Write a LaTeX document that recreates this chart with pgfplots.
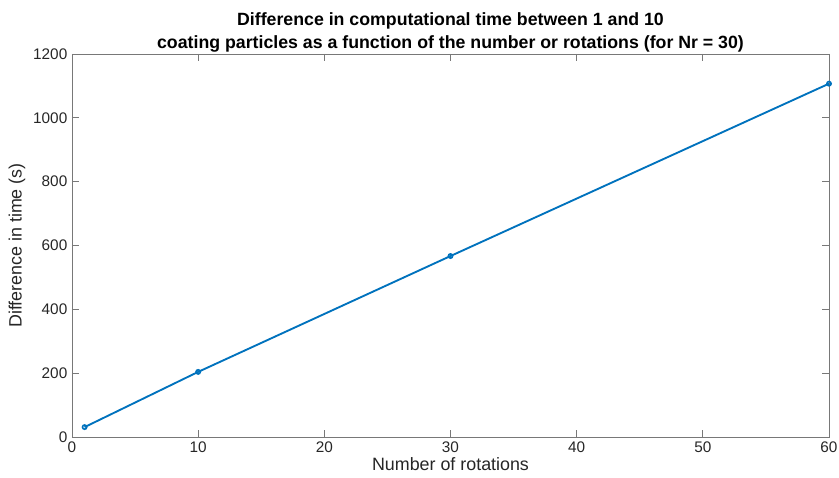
\documentclass[border=0pt]{standalone}
\usepackage{fontspec}
\setmainfont{Liberation Sans}
\usepackage{pgfplots}
\pgfplotsset{compat=1.18}
\definecolor{mblue}{RGB}{0,114,189}
\definecolor{axgray}{RGB}{120,120,120}
\begin{document}
\begin{tikzpicture}
\begin{axis}[
  scale only axis,
  width=567.75pt, height=287.25pt,
  xmin=0, xmax=60, ymin=0, ymax=1200,
  xtick={0,10,...,60}, ytick={0,200,...,1200},
  tick align=inside,
  major tick length=5pt,
  axis line style={axgray, line width=0.6pt},
  tick style={axgray, line width=0.6pt},
  every tick label/.append style={font=\fontsize{11.5}{13}\selectfont, text=black!85},
  /pgf/number format/assume math mode=true,
  scaled y ticks=false,
  yticklabel style={/pgf/number format/1000 sep={}},
  xlabel={Number of rotations},
  ylabel={Difference in time (s)},
  label style={font=\fontsize{13.4}{15}\selectfont, text=black!85},
  xlabel style={yshift=3pt},
  ylabel style={yshift=-1pt},
  title={\textbf{Difference in computational time between 1 and 10}\\\textbf{coating particles as a function of the number or rotations (for Nr = 30)}},
  title style={font=\fontsize{13.3}{17.3}\selectfont, align=center, yshift=-8.5pt},
  clip=false,
]
\addplot[mblue, line width=1.4pt, mark=o, mark size=1.6pt, mark options={line width=1.2pt}]
  coordinates {(1,31) (10,204) (30,567) (60,1107)};
\end{axis}
\pgfresetboundingbox
\path ([xshift=-54pt,yshift=-30.75pt]current axis.south west) rectangle ([xshift=7.5pt,yshift=40.5pt]current axis.north east);
\end{tikzpicture}
\end{document}
